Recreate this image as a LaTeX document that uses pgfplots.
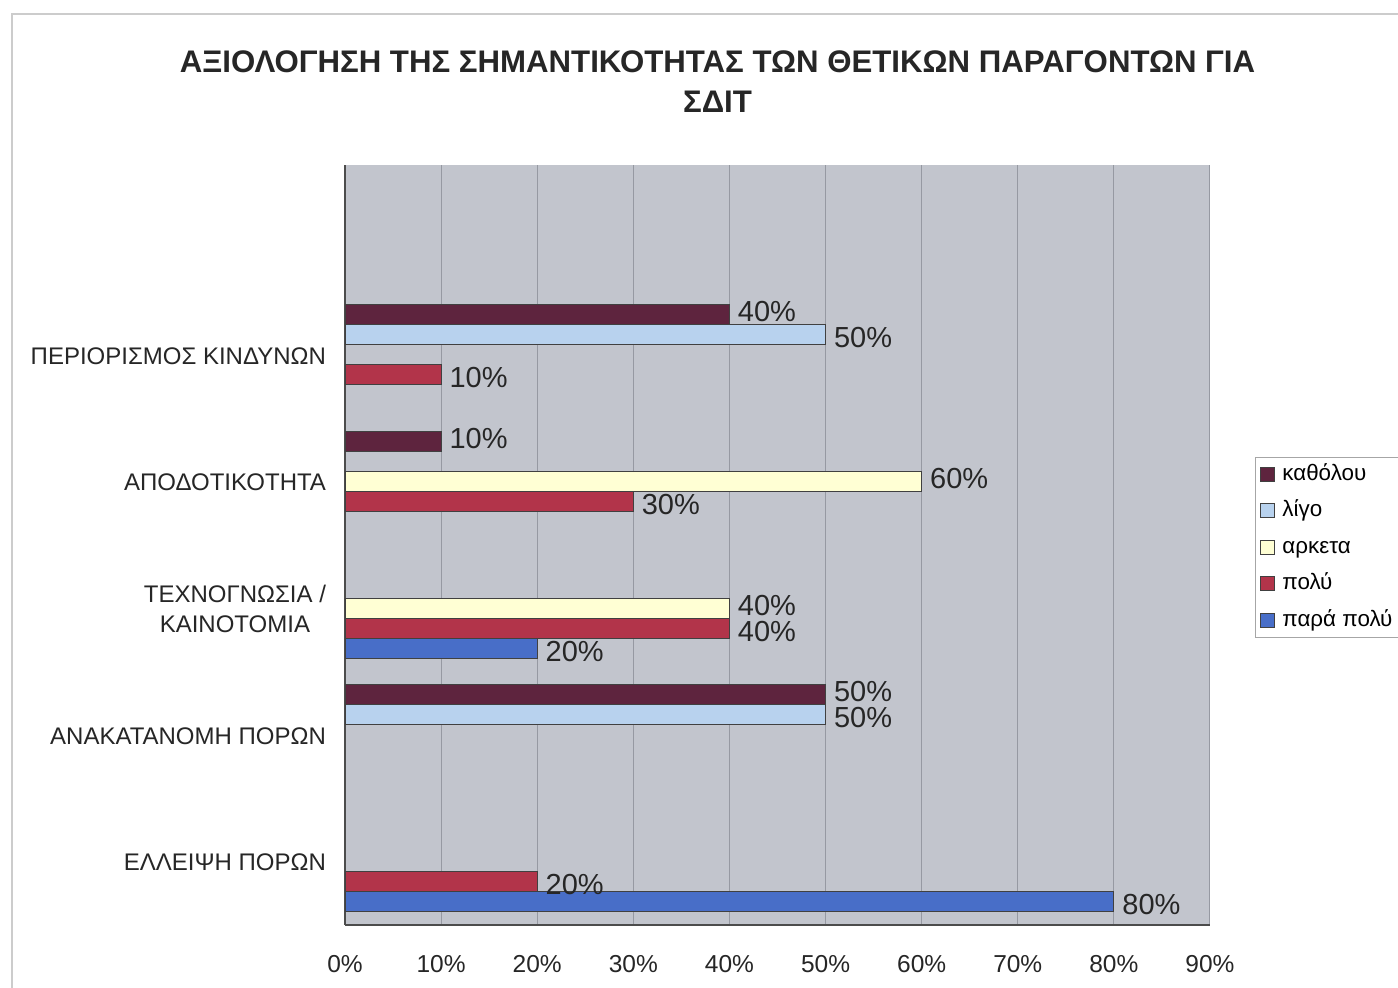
\documentclass[border=0pt]{standalone}
\usepackage{fontspec}
\setmainfont{Liberation Sans}
\usepackage{pgfplots}
\pgfplotsset{compat=1.18}
\definecolor{bgplot}{RGB}{194,197,205}
\definecolor{gridc}{RGB}{150,153,162}
\definecolor{cA}{RGB}{94,36,62}
\definecolor{cB}{RGB}{184,210,238}
\definecolor{cC}{RGB}{255,255,212}
\definecolor{cD}{RGB}{178,52,74}
\definecolor{cE}{RGB}{72,110,200}
\begin{document}
\begin{tikzpicture}
\useasboundingbox (0,0) rectangle (699pt,494pt);
\fill[white] (0,0) rectangle (699pt,494pt);
\draw[gray!40, line width=0.6pt] (6pt,-10pt) -- (6pt,487pt) -- (710pt,487pt);
\node[font=\fontsize{15.6}{20}\selectfont\bfseries, align=center, text=black!85] at (358.75pt,453pt)
  {ΑΞΙΟΛΟΓΗΣΗ ΤΗΣ ΣΗΜΑΝΤΙΚΟΤΗΤΑΣ ΤΩΝ ΘΕΤΙΚΩΝ ΠΑΡΑΓΟΝΤΩΝ ΓΙΑ\\ΣΔΙΤ};
\begin{axis}[
  at={(172.5pt,31.5pt)}, anchor=south west,
  scale only axis, width=432.5pt, height=380pt,
  xbar, bar width=10pt,
  xmin=0, xmax=90, ymin=-0.5, ymax=5.5,
  /pgf/number format/assume math mode=true,
  axis background/.style={fill=bgplot},
  axis x line*=bottom, axis y line*=left,
  axis line style={draw=black!70, line width=0.6pt},
  xmajorgrids, grid style={draw=gridc, line width=0.5pt},
  major tick length=0pt,
  xtick={0,10,...,90},
  xticklabels={0\%,10\%,20\%,30\%,40\%,50\%,60\%,70\%,80\%,90\%},
  xticklabel style={font=\fontsize{12.25}{14}\selectfont, yshift=-11.5pt, text=black!85},
  ytick={0,1,2,3,4},
  yticklabels={ΕΛΛΕΙΨΗ ΠΟΡΩΝ, ΑΝΑΚΑΤΑΝΟΜΗ ΠΟΡΩΝ, {ΤΕΧΝΟΓΝΩΣΙΑ /\\ΚΑΙΝΟΤΟΜΙΑ}, ΑΠΟΔΟΤΙΚΟΤΗΤΑ, ΠΕΡΙΟΡΙΣΜΟΣ ΚΙΝΔΥΝΩΝ},
  yticklabel style={font=\fontsize{12}{15}\selectfont, align=center, xshift=-6pt, yshift=-0.5pt, text=black!85},
  point meta=x,
  nodes near coords={\pgfmathprintnumber{\pgfplotspointmeta}\%},
  every node near coord/.append style={font=\fontsize{14.5}{16}\selectfont, anchor=west, inner sep=0pt, xshift=4pt, text=black!85},
  legend style={at={(axis description cs:1,0.616)}, anchor=north west, xshift=22.5pt,
    draw=gray!70, fill=white, font=\fontsize{11.2}{14}\selectfont, row sep=4.25pt,
    inner xsep=2.5pt, inner ysep=1.5pt,
    nodes={inner sep=1pt, text height=9pt, text depth=3pt},
    /tikz/every odd column/.append style={column sep=2.5pt}},
  legend cell align=left,
  legend image code/.code={\draw[#1, line width=0.5pt] (0pt,-3.5pt) rectangle (7pt,3.5pt);},
]
\addplot[fill=cA, draw=black!75, line width=0.5pt, bar shift=20pt,
  every node near coord/.append style={yshift=1.5pt}] coordinates {(40,4) (10,3) (50,1)};
\addplot[fill=cB, draw=black!75, line width=0.5pt, bar shift=10pt,
  every node near coord/.append style={yshift=-1.5pt}] coordinates {(50,4) (50,1)};
\addplot[fill=cC, draw=black!75, line width=0.5pt, bar shift=0pt,
  every node near coord/.append style={yshift=1.5pt}] coordinates {(60,3) (40,2)};
\addplot[fill=cD, draw=black!75, line width=0.5pt, bar shift=-10pt,
  every node near coord/.append style={yshift=-1.5pt}] coordinates {(10,4) (30,3) (40,2) (20,0)};
\addplot[fill=cE, draw=black!75, line width=0.5pt, bar shift=-20pt,
  every node near coord/.append style={yshift=-1.5pt}] coordinates {(20,2) (80,0)};
\legend{καθόλου, λίγο, αρκετα, πολύ, παρά πολύ}
\end{axis}
\end{tikzpicture}
\end{document}
